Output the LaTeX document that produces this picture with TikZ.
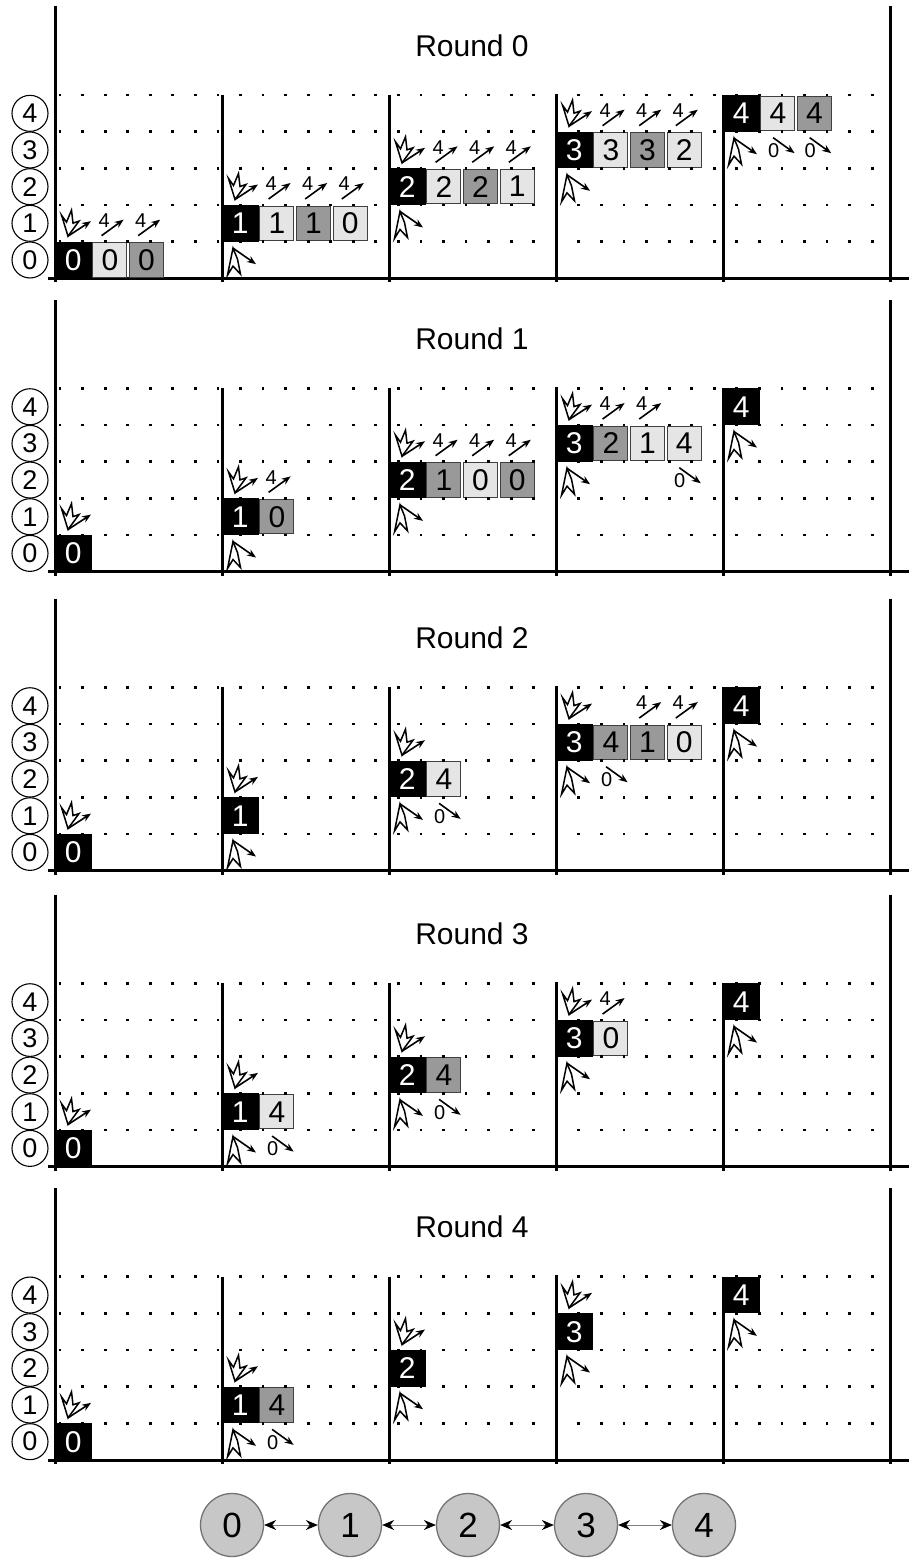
\documentclass[tikz,border=0pt]{standalone}
\usepackage{fontspec}
\setmainfont{Liberation Sans}
\usetikzlibrary{arrows.meta}
\newcommand\setfs[1]{\fontsize{#1}{#1}\selectfont}
\tikzset{
  axis/.style={line width=3pt, line cap=butt},
  title/.style={font=\setfs{30}, inner sep=0pt},
  lvl/.style={circle, draw, line width=1.1pt, minimum size=36pt, inner sep=0pt, font=\setfs{27}},
  bk/.style={fill=black, text=white, minimum width=36.6pt, minimum height=36.66pt, inner sep=0pt, font=\setfs{30}},
  lt/.style={fill=black!10, draw=black!75, line width=1pt, minimum width=34pt, minimum height=34.5pt, inner sep=0pt, font=\setfs{30}},
  dk/.style={fill=black!40, draw=black!75, line width=1pt, minimum width=34pt, minimum height=34.5pt, inner sep=0pt, font=\setfs{30}},
  small/.style={font=\setfs{20}, inner sep=0pt},
  arr/.style={line width=1.6pt, -{Stealth[length=9pt,width=7pt]}},
  icon/.style={line width=1.5pt, line join=miter},
  gnode/.style={circle, fill=black!22, draw=black!55, line width=1.3pt, minimum size=63pt, inner sep=0pt, font=\setfs{35}},
  dbl/.style={draw=black!50, line width=1pt, {Stealth[length=12pt,width=10pt,black]}-{Stealth[length=12pt,width=10pt,black]}},
  upicon/.pic={
    \draw[icon] (0,0) -- (-6.5,-21) -- (-1.5,-14) -- (3.5,-26) -- (5,-13) -- (11,-15) -- cycle;
    \draw[arr] (0,0) -- (23,-15);
  },
  dnicon/.pic={
    \draw[icon] (0,0) -- (-5.5,27) -- (0,18) -- (7.5,26) -- (4.5,11) -- cycle;
    \draw[arr] (0,0) -- (23,16);
  },
  fourarrow/.pic={
    \node[small] (-t) at (12.5,-21) {4};
    \draw[arr] (10,-6) -- (32,-22);
  },
  zeroarrow/.pic={
    \node[small] (-t) at (14,19) {0};
    \draw[arr] (13.5,6) -- (35,21.5);
  },
}
\newcommand\Frame{%
  \node[title] (title\R) at (472,-233) {Round \R};
  \draw[axis] (55,-272) -- (55,4);
  \draw[axis] (890,-272) -- (890,4);
  \foreach \c in {1,2,3,4} {\draw[axis] ({55+167*\c},-183.3) -- ({55+167*\c},4);}
  \draw[axis] (48,0) -- (909,0);
  \foreach \k in {0,...,4} {\node[lvl] (lvl\R-\k) at (30,{-36.66*(\k+0.5)}) {\k};}
}
\newcommand\Dots{%
  \foreach \k in {1,...,5}{\foreach \j in {0,...,36}{\fill ({60+22.56*\j-1.4},{-36.66*\k-1.4}) rectangle ++(2.8,2.8);}}
}
\newcommand\B[4]{\node[#4] (box\R-#1-#2) at ({55+167*#1+36.6*(#2+0.5)},{-36.66*(#1+0.5)}) {#3};}
\newcommand\Up[1]{\pic (u\R-#1) at ({55+167*#1+13},{-36.66*(#1+1)-5.5}) {upicon};}
\newcommand\Dn[1]{\pic (d\R-#1) at ({55+167*#1+11},{-36.66*#1+6.5}) {dnicon};}
\newcommand\Four[2]{\pic (f\R-#1-#2) at ({55+167*#1+36.6*#2},{-36.66*(#1+1)}) {fourarrow};}
\newcommand\Zero[2]{\pic (z\R-#1-#2) at ({55+167*#1+36.6*#2},{-36.66*#1}) {zeroarrow};}
\begin{document}
\begin{tikzpicture}[x=1pt,y=-1pt]
\useasboundingbox (0,0) rectangle (909,1559);
% Round 0
\begin{scope}[shift={(0,278.3)}]
\def\R{0}
\Frame
\B{0}{0}{0}{bk}\B{0}{1}{0}{lt}\B{0}{2}{0}{dk}\Up{0}\Four{0}{1}\Four{0}{2}
\B{1}{0}{1}{bk}\B{1}{1}{1}{lt}\B{1}{2}{1}{dk}\B{1}{3}{0}{lt}\Up{1}\Four{1}{1}\Four{1}{2}\Four{1}{3}\Dn{1}
\B{2}{0}{2}{bk}\B{2}{1}{2}{lt}\B{2}{2}{2}{dk}\B{2}{3}{1}{lt}\Up{2}\Four{2}{1}\Four{2}{2}\Four{2}{3}\Dn{2}
\B{3}{0}{3}{bk}\B{3}{1}{3}{lt}\B{3}{2}{3}{dk}\B{3}{3}{2}{lt}\Up{3}\Four{3}{1}\Four{3}{2}\Four{3}{3}\Dn{3}
\B{4}{0}{4}{bk}\B{4}{1}{4}{lt}\B{4}{2}{4}{dk}\Dn{4}\Zero{4}{1}\Zero{4}{2}
\Dots
\end{scope}
% Round 1
\begin{scope}[shift={(0,571.7)}]
\def\R{1}
\Frame
\B{0}{0}{0}{bk}\Up{0}
\B{1}{0}{1}{bk}\B{1}{1}{0}{dk}\Up{1}\Four{1}{1}\Dn{1}
\B{2}{0}{2}{bk}\B{2}{1}{1}{dk}\B{2}{2}{0}{lt}\B{2}{3}{0}{dk}\Up{2}\Four{2}{1}\Four{2}{2}\Four{2}{3}\Dn{2}
\B{3}{0}{3}{bk}\B{3}{1}{2}{dk}\B{3}{2}{1}{lt}\B{3}{3}{4}{lt}\Up{3}\Four{3}{1}\Four{3}{2}\Dn{3}\Zero{3}{3}
\B{4}{0}{4}{bk}\Dn{4}
\Dots
\end{scope}
% Round 2
\begin{scope}[shift={(0,870.7)}]
\def\R{2}
\Frame
\B{0}{0}{0}{bk}\Up{0}
\B{1}{0}{1}{bk}\Up{1}\Dn{1}
\B{2}{0}{2}{bk}\B{2}{1}{4}{lt}\Up{2}\Dn{2}\Zero{2}{1}
\B{3}{0}{3}{bk}\B{3}{1}{4}{dk}\B{3}{2}{1}{dk}\B{3}{3}{0}{lt}\Up{3}\Four{3}{2}\Four{3}{3}\Dn{3}\Zero{3}{1}
\B{4}{0}{4}{bk}\Dn{4}
\Dots
\end{scope}
% Round 3
\begin{scope}[shift={(0,1166.7)}]
\def\R{3}
\Frame
\B{0}{0}{0}{bk}\Up{0}
\B{1}{0}{1}{bk}\B{1}{1}{4}{lt}\Up{1}\Dn{1}\Zero{1}{1}
\B{2}{0}{2}{bk}\B{2}{1}{4}{dk}\Up{2}\Dn{2}\Zero{2}{1}
\B{3}{0}{3}{bk}\B{3}{1}{0}{lt}\Up{3}\Four{3}{1}\Dn{3}
\B{4}{0}{4}{bk}\Dn{4}
\Dots
\end{scope}
% Round 4
\begin{scope}[shift={(0,1460)}]
\def\R{4}
\Frame
\B{0}{0}{0}{bk}\Up{0}
\B{1}{0}{1}{bk}\B{1}{1}{4}{dk}\Up{1}\Dn{1}\Zero{1}{1}
\B{2}{0}{2}{bk}\Up{2}\Dn{2}
\B{3}{0}{3}{bk}\Up{3}\Dn{3}
\B{4}{0}{4}{bk}\Dn{4}
\Dots
\end{scope}
% graph
\foreach \i/\x in {0/232,1/350,2/468,3/586,4/704} {\node[gnode] (g\i) at (\x,1525) {\i};}
\draw[dbl] (g0) -- (g1);
\draw[dbl] (g1) -- (g2);
\draw[dbl] (g2) -- (g3);
\draw[dbl] (g3) -- (g4);
\end{tikzpicture}
\end{document}
